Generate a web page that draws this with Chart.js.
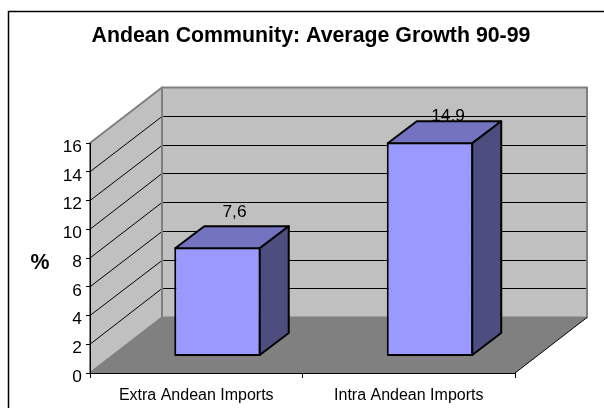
<!DOCTYPE html>
<html>
<head>
<meta charset="utf-8">
<style>html,body{margin:0;padding:0;background:#fff;overflow:hidden}#w{position:absolute;left:0;top:0;width:604px;height:408px}</style>
<script src="https://cdn.jsdelivr.net/npm/chart.js@4"></script>
</head>
<body>
<div id="w"><canvas id="c" width="604" height="408"></canvas></div>
<script>
const chartTitle = 'Andean Community: Average Growth 90-99';
const axisTitle = '%';
const categories = ['Extra Andean Imports', 'Intra Andean Imports'];
const growth = [7.6, 14.9];
const valueLabels = ['7,6', '14,9'];

const FONT = '"Liberation Sans", Arial, sans-serif';
const WALL = {dx: 72, dy: -55.5};
const BAR_SHIFT = {dx: 21.25, dy: -16.5};
const BAR_DEPTH = {dx: 29, dy: -22};

function poly(ctx, pts, fill, stroke, lw) {
  ctx.beginPath();
  pts.forEach((p, i) => i ? ctx.lineTo(p[0], p[1]) : ctx.moveTo(p[0], p[1]));
  ctx.closePath();
  if (fill) { ctx.fillStyle = fill; ctx.fill(); }
  if (stroke) { ctx.strokeStyle = stroke; ctx.lineWidth = lw; ctx.lineJoin = 'round'; ctx.stroke(); }
}

const scene3d = {
  id: 'scene3d',
  beforeDraw(chart) {
    const {ctx, chartArea: a, scales: {y}} = chart;
    const {dx, dy} = WALL;
    const L = a.left, R = a.right, B = y.getPixelForValue(0), T = y.getPixelForValue(16);
    ctx.save();
    // chart frame, open past the right and bottom of the window
    ctx.strokeStyle = '#000'; ctx.lineWidth = 1.5;
    ctx.strokeRect(8.5, 11.5, 640, 440);
    // side wall, back wall, floor
    poly(ctx, [[L, T], [L + dx, T + dy], [L + dx, B + dy], [L, B]], '#c0c0c0', '#808080', 2);
    poly(ctx, [[L + dx, T + dy], [R + dx, T + dy], [R + dx, B + dy], [L + dx, B + dy]], '#c0c0c0', '#808080', 2);
    poly(ctx, [[L, B], [L + dx, B + dy], [R + dx, B + dy], [R, B]], '#808080');
    // gridlines
    ctx.strokeStyle = '#000'; ctx.lineWidth = 1;
    y.ticks.forEach(t => {
      if (t.value === 0 || t.value === 16) return;
      const py = y.getPixelForValue(t.value);
      const backY = Math.floor(py + dy) + 0.5;
      ctx.beginPath();
      ctx.moveTo(L, py);
      ctx.lineTo(L + dx, backY);
      ctx.lineTo(R + dx - 1, backY);
      ctx.stroke();
    });
    // floor front right edge
    ctx.beginPath(); ctx.moveTo(R, B); ctx.lineTo(R + dx, B + dy); ctx.stroke();
    // repaint the back wall's left edge over the gridline joins
    ctx.strokeStyle = '#808080'; ctx.lineWidth = 2;
    ctx.beginPath(); ctx.moveTo(L + dx, T + dy); ctx.lineTo(L + dx, B + dy); ctx.stroke();
    // title and axis title
    ctx.fillStyle = '#000';
    ctx.textBaseline = 'alphabetic';
    ctx.textAlign = 'center';
    ctx.font = 'bold 21.33px ' + FONT;
    ctx.fillText(chartTitle, 311, 42);
    ctx.fillText(axisTitle, 40, 269);
    ctx.restore();
  },
  beforeDatasetsDraw(chart) {
    const {ctx} = chart;
    const bars = chart.getDatasetMeta(0).data;
    ctx.save();
    ctx.font = '17.33px ' + FONT;
    ctx.fillStyle = '#000';
    ctx.textAlign = 'center';
    ctx.textBaseline = 'middle';
    bars.forEach((bar, i) => {
      const {x, y} = bar.getProps(['x', 'y'], true);
      const lift = i === 0 ? 36 : 27;
      const side = i === 0 ? 17 : 18;
      ctx.fillText(valueLabels[i], x + BAR_SHIFT.dx + side, y + BAR_SHIFT.dy - lift + 1);
    });
    ctx.restore();
  },
  beforeDatasetDraw(chart) {
    chart.ctx.save();
    chart.ctx.translate(BAR_SHIFT.dx, BAR_SHIFT.dy);
  },
  afterDatasetDraw(chart, args) {
    const {ctx} = chart;
    const {dx, dy} = BAR_DEPTH;
    args.meta.data.forEach(bar => {
      const {x, y, base, width} = bar.getProps(['x', 'y', 'base', 'width'], true);
      const l = x - width / 2 + 1, r = x + width / 2 - 1, t = y + 1, b = base - 1;
      poly(ctx, [[l, t], [l + dx, t + dy], [r + dx, t + dy], [r, t]], '#7373bf', '#000', 2);
      poly(ctx, [[r, t], [r + dx, t + dy], [r + dx, b + dy], [r, b]], '#4d4d80', '#000', 2);
    });
    ctx.restore();
  }
};

new Chart(document.getElementById('c'), {
  type: 'bar',
  data: {
    labels: categories,
    datasets: [{
      data: growth,
      backgroundColor: '#9999ff',
      borderColor: '#000',
      borderWidth: 2,
      borderSkipped: false,
      categoryPercentage: 1,
      barPercentage: 0.407,
      clip: false
    }]
  },
  plugins: [scene3d],
  options: {
    responsive: false,
    animation: false,
    events: [],
    layout: {padding: {left: 0, right: 89, top: 143, bottom: 0}},
    plugins: {legend: {display: false}, title: {display: false}, tooltip: {enabled: false}},
    scales: {
      x: {
        afterFit(s) { s.height = 35; },
        grid: {drawOnChartArea: false, drawTicks: true, tickLength: 5, color: '#000'},
        border: {display: true, color: '#000', width: 1},
        ticks: {color: '#000', font: {family: FONT, size: 16}, padding: 8, maxRotation: 0, autoSkip: false}
      },
      y: {
        min: 0, max: 16,
        afterFit(s) { s.width = 90; },
        grid: {drawOnChartArea: false, drawTicks: true, tickLength: 4, color: '#000'},
        border: {display: true, color: '#000', width: 1},
        ticks: {stepSize: 2, color: '#000', font: {family: FONT, size: 17.33}, padding: 4, labelOffset: 4}
      }
    }
  }
});
</script>
</body>
</html>
